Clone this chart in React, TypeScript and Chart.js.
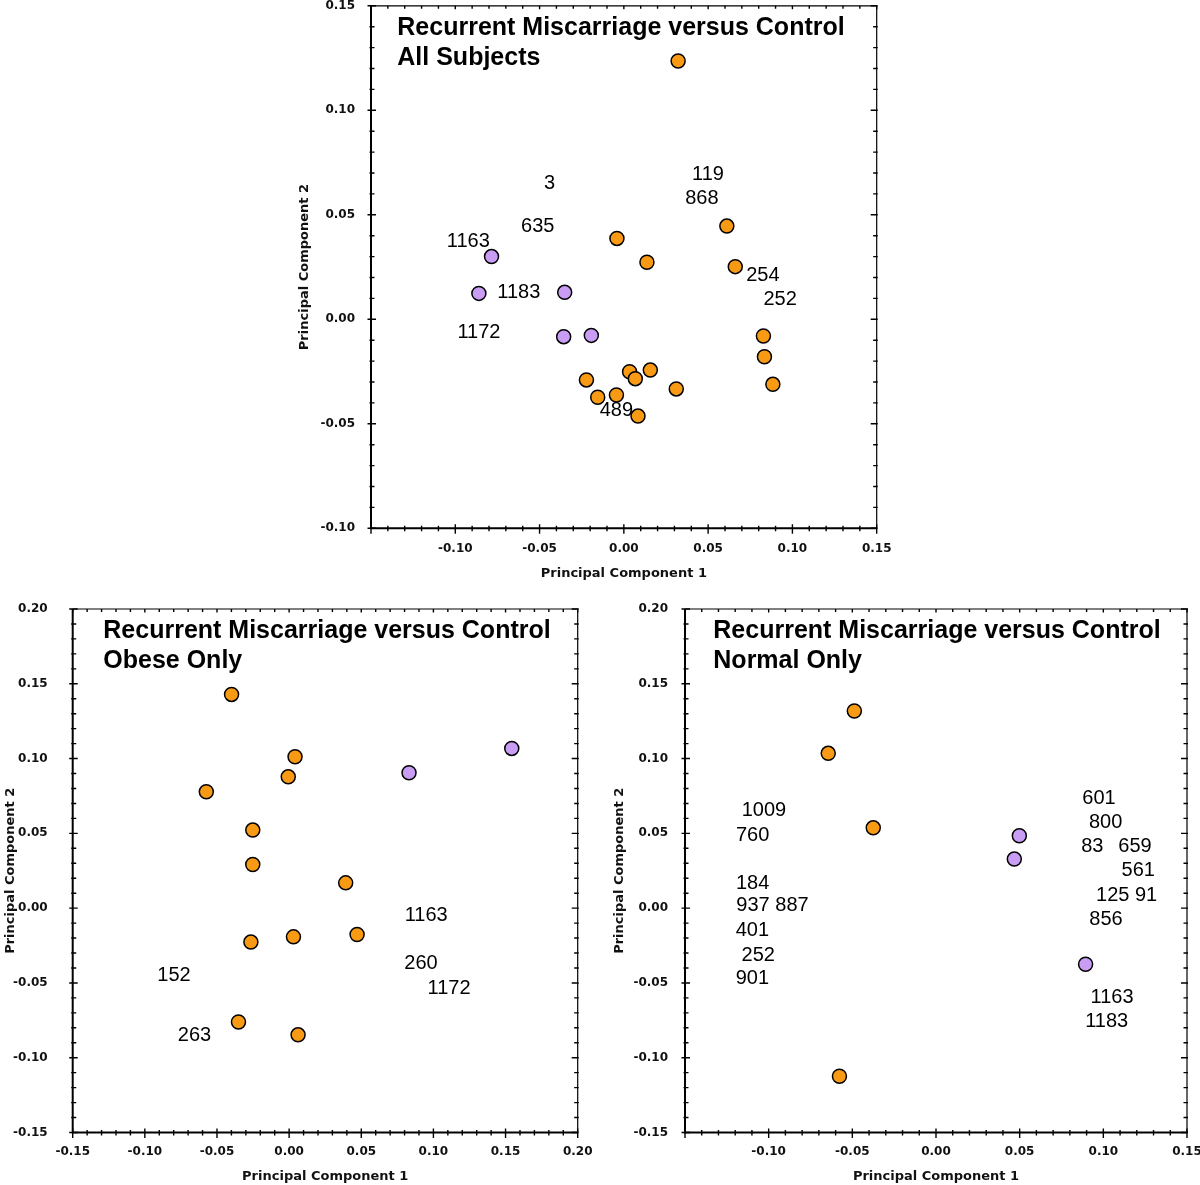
import React, { useEffect, useRef } from "react";
import { Chart, registerables } from "chart.js";
Chart.register(...registerables);

const COLOR_A = "#F89A14";
const COLOR_B = "#C99DF3";
const X_TITLE = "Principal Component 1";
const Y_TITLE = "Principal Component 2";

// ---------- Panel 1: All Subjects ----------
const allTitle = ["Recurrent Miscarriage versus Control", "All Subjects"];
const allAX = [0.0322, -0.0041, 0.0137, 0.0611, 0.0661, 0.0828, 0.0834, 0.0884, -0.0222, -0.0155, -0.0044, 0.0034, 0.0068, 0.0157, 0.0311, 0.0084];
const allAY = [0.1236, 0.0387, 0.0273, 0.0446, 0.0252, -0.008, -0.0179, -0.0311, -0.029, -0.0373, -0.0362, -0.0251, -0.0284, -0.0243, -0.0333, -0.0463];
const allBX = [-0.0785, -0.086, -0.0351, -0.0357, -0.0193];
const allBY = [0.03, 0.0124, 0.0129, -0.0083, -0.0077];
const allLabelText = ["3", "635", "1163", "1183", "1172", "119", "868", "254", "252", "489"];
const allLabelX = [-0.0441, -0.0511, -0.0923, -0.0623, -0.086, 0.0499, 0.0463, 0.0825, 0.0927, -0.0044];
const allLabelY = [0.0649, 0.0443, 0.0371, 0.0126, -0.0064, 0.0695, 0.0576, 0.0212, 0.0097, -0.0434];
const allXRange = [-0.15, 0.15];
const allYRange = [-0.1, 0.15];
const allXTicks = [-0.1, -0.05, 0, 0.05, 0.1, 0.15];
const allYTicks = [-0.1, -0.05, 0, 0.05, 0.1, 0.15];

// ---------- Panel 2: Obese Only ----------
const obeseTitle = ["Recurrent Miscarriage versus Control", "Obese Only"];
const obeseAX = [-0.0399, 0.0041, -0.0006, -0.0574, -0.0252, -0.0252, 0.0392, -0.0265, 0.003, 0.0471, -0.0351, 0.0062];
const obeseAY = [0.1429, 0.1012, 0.0878, 0.0778, 0.0522, 0.0292, 0.0169, -0.0227, -0.0192, -0.0176, -0.0761, -0.0847];
const obeseBX = [0.0831, 0.1543];
const obeseBY = [0.0905, 0.1068];
const obeseLabelText = ["1163", "260", "1172", "152", "263"];
const obeseLabelX = [0.095, 0.0914, 0.1108, -0.0798, -0.0656];
const obeseLabelY = [-0.0047, -0.0371, -0.0535, -0.0448, -0.0849];
const obeseXRange = [-0.15, 0.2];
const obeseYRange = [-0.15, 0.2];
const obeseXTicks = [-0.15, -0.1, -0.05, 0, 0.05, 0.1, 0.15, 0.2];
const obeseYTicks = [-0.15, -0.1, -0.05, 0, 0.05, 0.1, 0.15, 0.2];

// ---------- Panel 3: Normal Only ----------
const normalTitle = ["Recurrent Miscarriage versus Control", "Normal Only"];
const normalAX = [-0.0488, -0.0644, -0.0375, -0.0577];
const normalAY = [0.1318, 0.1035, 0.0537, -0.1124];
const normalBX = [0.0498, 0.0468, 0.0894];
const normalBY = [0.0484, 0.0328, -0.0375];
const normalLabelText = ["1009", "760", "184", "937 887", "401", "252", "901", "601", "800", "83", "659", "561", "125 91", "856", "1163", "1183"];
const normalLabelX = [-0.1028, -0.1096, -0.1096, -0.0977, -0.1097, -0.1062, -0.1097, 0.0974, 0.1014, 0.0934, 0.1189, 0.1209, 0.1139, 0.1016, 0.1052, 0.102];
const normalLabelY = [0.0656, 0.0488, 0.0165, 0.0015, -0.0147, -0.0314, -0.0473, 0.0734, 0.0573, 0.0415, 0.0415, 0.0249, 0.0087, -0.0074, -0.0597, -0.0761];
const normalXRange = [-0.15, 0.15];
const normalYRange = [-0.15, 0.2];
const normalXTicks = [-0.1, -0.05, 0, 0.05, 0.1, 0.15];
const normalYTicks = [-0.15, -0.1, -0.05, 0, 0.05, 0.1, 0.15, 0.2];

type Panel = {
  title: string[]; ax: number[]; ay: number[]; bx: number[]; by: number[];
  labelText: string[]; labelX: number[]; labelY: number[];
  xRange: number[]; yRange: number[]; xTicks: number[]; yTicks: number[];
};
type Layout = {
  left: number; top: number; width: number; height: number;
  padTop: number; padRight: number; yWidth: number; xHeight: number;
  yTickPad: number; xTickPad: number; yTitlePad: number; xTitlePad: number; titleDX: number;
};

const panels: Panel[] = [
  { title: allTitle, ax: allAX, ay: allAY, bx: allBX, by: allBY, labelText: allLabelText, labelX: allLabelX, labelY: allLabelY, xRange: allXRange, yRange: allYRange, xTicks: allXTicks, yTicks: allYTicks },
  { title: obeseTitle, ax: obeseAX, ay: obeseAY, bx: obeseBX, by: obeseBY, labelText: obeseLabelText, labelX: obeseLabelX, labelY: obeseLabelY, xRange: obeseXRange, yRange: obeseYRange, xTicks: obeseXTicks, yTicks: obeseYTicks },
  { title: normalTitle, ax: normalAX, ay: normalAY, bx: normalBX, by: normalBY, labelText: normalLabelText, labelX: normalLabelX, labelY: normalLabelY, xRange: normalXRange, yRange: normalYRange, xTicks: normalXTicks, yTicks: normalYTicks },
];

const layouts: Layout[] = [
  { left: 291, top: 0, width: 600, height: 590, padTop: 5.8, padRight: 14.3, yWidth: 80, xHeight: 61.7, yTickPad: 16, xTickPad: 13, yTitlePad: 5.9, xTitlePad: 8.9, titleDX: 26.3 },
  { left: 0, top: 595, width: 595, height: 590, padTop: 14, padRight: 17.3, yWidth: 72.7, xHeight: 52.5, yTickPad: 25, xTickPad: 12.5, yTitlePad: 2.9, xTitlePad: 0.9, titleDX: 30.6 },
  { left: 605, top: 595, width: 595, height: 590, padTop: 14, padRight: 13, yWidth: 80, xHeight: 52.5, yTickPad: 17, xTickPad: 12.5, yTitlePad: 6.9, xTitlePad: 0.9, titleDX: 28.3 },
];

const fmt = (v: number) => Number(v).toFixed(2);

function makeOverlay(panel: Panel, layout: Layout) {
  return {
    id: "overlay",
    beforeDatasetsDraw(chart: any) {
      const { ctx, chartArea: a, scales } = chart;
      const x = scales.x, y = scales.y;
      ctx.save();
      ctx.fillStyle = "#000";
      ctx.font = '20px "Liberation Sans", Arial, sans-serif';
      ctx.textAlign = "center";
      ctx.textBaseline = "middle";
      panel.labelText.forEach((t, i) => {
        ctx.fillText(t, x.getPixelForValue(panel.labelX[i]), y.getPixelForValue(panel.labelY[i]));
      });
      ctx.font = 'bold 25px "Liberation Sans", Arial, sans-serif';
      ctx.textAlign = "left";
      ctx.textBaseline = "alphabetic";
      panel.title.forEach((t, i) => {
        ctx.fillText(t, a.left + layout.titleDX, a.top + 29 + i * 30);
      });
      ctx.restore();
    },
    afterDatasetsDraw(chart: any) {
      const { ctx, chartArea: a, scales } = chart;
      const xs = scales.x, ys = scales.y;
      ctx.save();
      ctx.strokeStyle = "#000";
      ctx.lineWidth = 1.2;
      ctx.beginPath();
      ctx.moveTo(a.left, a.top);
      ctx.lineTo(a.right, a.top);
      ctx.lineTo(a.right, a.bottom);
      ctx.stroke();
      ctx.lineWidth = 2;
      ctx.beginPath();
      ctx.moveTo(a.left, a.top);
      ctx.lineTo(a.left, a.bottom);
      ctx.lineTo(a.right, a.bottom);
      ctx.stroke();
      ctx.lineWidth = 1.4;
      ctx.beginPath();
      const x0 = Math.ceil(xs.min / 0.01 - 1e-6), x1 = Math.floor(xs.max / 0.01 + 1e-6);
      for (let i = x0; i <= x1; i++) {
        const px = xs.getPixelForValue(i * 0.01);
        const major = Math.abs(i) % 5 === 0;
        ctx.moveTo(px, a.bottom - (major ? 4 : 2.5));
        ctx.lineTo(px, a.bottom + (major ? 5.5 : 3));
        ctx.moveTo(px, a.top);
        ctx.lineTo(px, a.top + (major ? 3.5 : 3));
      }
      const y0 = Math.ceil(ys.min / 0.01 - 1e-6), y1 = Math.floor(ys.max / 0.01 + 1e-6);
      for (let i = y0; i <= y1; i++) {
        const py = ys.getPixelForValue(i * 0.01);
        const major = Math.abs(i) % 5 === 0;
        ctx.moveTo(a.left - (major ? 3.5 : 1.5), py);
        ctx.lineTo(a.left + (major ? 5 : 3.5), py);
        ctx.moveTo(a.right - (major ? 6 : 3.5), py);
        ctx.lineTo(a.right + 1, py);
      }
      ctx.stroke();
      ctx.restore();
    },
  };
}

function PanelChart({ panel, layout }: { panel: Panel; layout: Layout }) {
  const ref = useRef<HTMLCanvasElement | null>(null);
  useEffect(() => {
    if (!ref.current) return;
    const tickFont = { family: '"DejaVu Sans", sans-serif', size: 12, weight: "bold" };
    const titleFont = { family: '"DejaVu Sans", sans-serif', size: 13, weight: "bold" };
    const pointStyle = (color: string) => ({
      pointBackgroundColor: color,
      pointBorderColor: "#000",
      pointBorderWidth: 1.5,
      pointRadius: 7,
      pointHoverRadius: 7,
      backgroundColor: color,
      borderColor: "#000",
    });
    const chart = new Chart(ref.current, {
      type: "scatter",
      data: {
        datasets: [
          { data: panel.ax.map((v, i) => ({ x: v, y: panel.ay[i] })), ...pointStyle(COLOR_A) },
          { data: panel.bx.map((v, i) => ({ x: v, y: panel.by[i] })), ...pointStyle(COLOR_B) },
        ],
      },
      options: {
        animation: false,
        responsive: false,
        devicePixelRatio: 1,
        events: [],
        layout: { padding: { left: 0, top: layout.padTop, right: layout.padRight, bottom: 0 }, autoPadding: false },
        plugins: { legend: { display: false }, tooltip: { enabled: false }, title: { display: false } },
        scales: {
          x: {
            type: "linear",
            min: panel.xRange[0],
            max: panel.xRange[1],
            afterBuildTicks: (s: any) => { s.ticks = panel.xTicks.map((v) => ({ value: v })); },
            afterFit: (s: any) => { s.height = layout.xHeight; s.paddingLeft = 0; s.paddingRight = 0; },
            grid: { display: false, drawTicks: false, tickLength: 0 },
            border: { display: false },
            ticks: { padding: layout.xTickPad, font: tickFont, color: "#111", maxRotation: 0, autoSkip: false, callback: (v: any) => fmt(v) },
            title: { display: true, text: X_TITLE, font: titleFont, color: "#111", padding: { top: 0, bottom: layout.xTitlePad } },
          },
          y: {
            type: "linear",
            min: panel.yRange[0],
            max: panel.yRange[1],
            afterBuildTicks: (s: any) => { s.ticks = panel.yTicks.map((v) => ({ value: v })); },
            afterFit: (s: any) => { s.width = layout.yWidth; s.paddingTop = 0; s.paddingBottom = 0; },
            grid: { display: false, drawTicks: false, tickLength: 0 },
            border: { display: false },
            ticks: { padding: layout.yTickPad, font: tickFont, color: "#111", autoSkip: false, callback: (v: any) => fmt(v) },
            title: { display: true, text: Y_TITLE, font: titleFont, color: "#111", padding: { top: layout.yTitlePad, bottom: 0 } },
          },
        },
      } as any,
      plugins: [makeOverlay(panel, layout)],
    });
    return () => chart.destroy();
  }, [panel, layout]);
  return (
    <canvas
      ref={ref}
      width={layout.width}
      height={layout.height}
      style={{ position: "absolute", left: layout.left, top: layout.top, width: layout.width, height: layout.height }}
    />
  );
}

export default function App() {
  return (
    <div style={{ position: "absolute", left: 0, top: 0, width: 1200, height: 1185, background: "#fff", overflow: "hidden" }}>
      {panels.map((p, i) => (
        <PanelChart key={i} panel={p} layout={layouts[i]} />
      ))}
    </div>
  );
}
